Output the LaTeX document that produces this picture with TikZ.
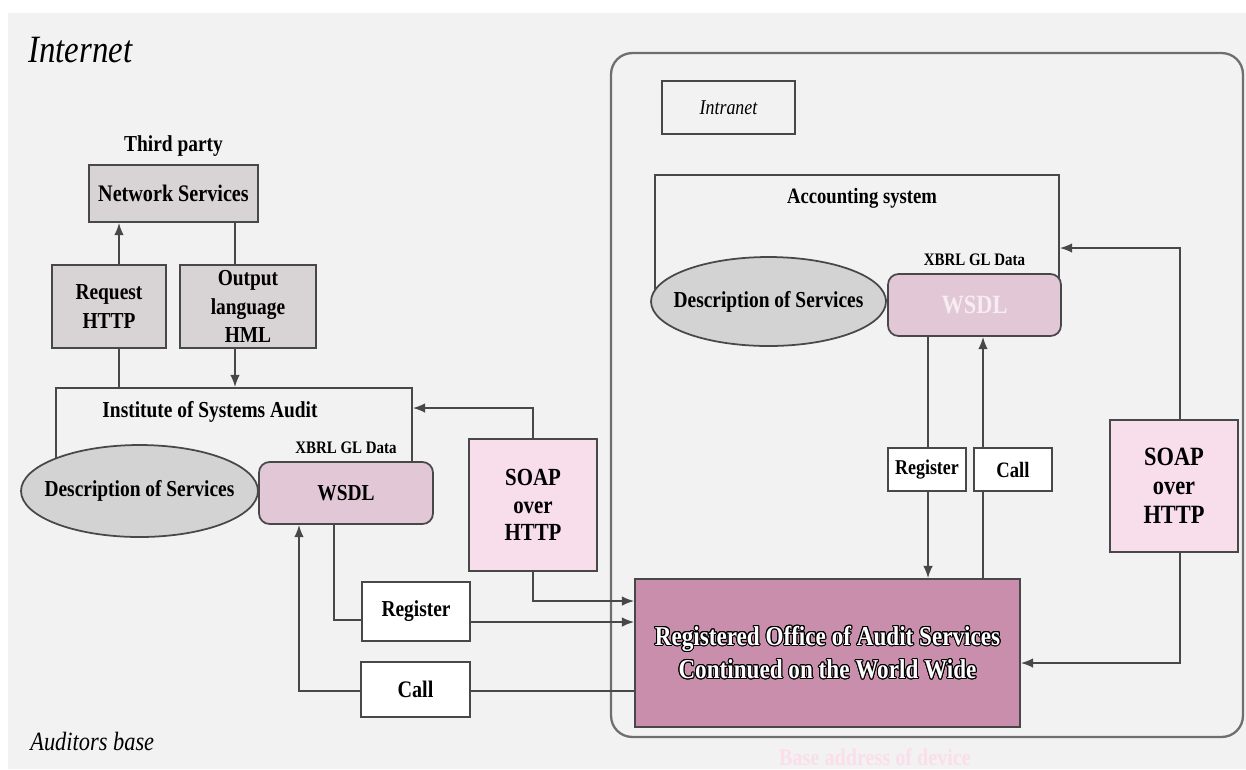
\documentclass[tikz,border=0pt]{standalone}
\usepackage{fontspec}
\setmainfont{Liberation Serif}[FakeStretch=0.85]
\usepackage[copies]{contour}
\contourlength{0.6pt}
\usepackage{xcolor}
\usetikzlibrary{arrows.meta, positioning, shapes.geometric}

\definecolor{bgcol}{RGB}{242,242,242}
\definecolor{linecol}{RGB}{72,72,72}
\definecolor{outercol}{RGB}{110,110,110}
\definecolor{boxgray}{RGB}{216,211,212}
\definecolor{ellgray}{RGB}{211,211,211}
\definecolor{wsdlpink}{RGB}{226,200,214}
\definecolor{wsdltext}{RGB}{246,236,241}
\definecolor{soappink}{RGB}{248,221,234}
\definecolor{officecol}{RGB}{201,142,171}
\definecolor{basecol}{RGB}{251,222,234}

\begin{document}
\begin{tikzpicture}[
x=0.02cm, y=-0.02cm,
box/.style={draw=linecol,
line width=1pt,
rectangle,
inner sep=0pt,
align=center,
font=\bfseries\fontsize{13}{16}\selectfont},
graybox/.style={box, fill=boxgray},
whitebox/.style={box, fill=white},
soapbox/.style={box, fill=soappink, minimum width=2.56cm, minimum height=2.64cm},
wsdlbox/.style={box, fill=wsdlpink, rounded corners=6pt},
descbox/.style={box, ellipse, fill=ellgray},
openframe/.style={draw=linecol, line width=1pt, rectangle, inner sep=0pt},
heading/.style={inner sep=0pt, font=\bfseries\fontsize{13}{15}\selectfont},
tag/.style={inner sep=0pt, font=\bfseries\fontsize{10}{12}\selectfont},
arrow/.style={-{Latex[length=7pt, width=5.5pt]}, draw=linecol, line width=1pt},
link/.style={draw=linecol, line width=1pt}
]

\useasboundingbox (0,0) rectangle (1246,769);
\clip (0,0) rectangle (1246,769);
\fill[bgcol] (8,13) rectangle (1246,769);

\node[anchor=base west, inner sep=0pt, font=\itshape\fontsize{22}{24}\selectfont] (internet) at (28,62) {Internet};
\node[anchor=base west, inner sep=0pt, font=\itshape\fontsize{15}{17}\selectfont] (auditors) at (30,750) {Auditors base};

\node[draw=outercol, line width=1.3pt, rounded corners=12pt, minimum width=12.64cm, minimum height=13.68cm, inner sep=0pt] (intra) at (927,395) {};
\node[draw=linecol, line width=1.3pt, minimum width=2.66cm, minimum height=1.06cm, font=\itshape\fontsize{12}{14}\selectfont] (intraLbl) at (728.5,107.5) {Intranet};

\node[graybox, minimum width=3.38cm, minimum height=1.14cm, font=\bfseries\fontsize{13.5}{16}\selectfont] (net) at (173.5,193.5) {Network Services};
\node[heading, above=4pt of net] (third) {Third party};
\node[graybox, minimum width=2.28cm, minimum height=1.66cm] (req) at (109,306.5) {Request\\HTTP};
\node[graybox, minimum width=2.72cm, minimum height=1.66cm] (outp) at (248,306.5) {Output\\language\\HML};

\node[openframe, minimum width=7.12cm, minimum height=2.08cm] (inst) at (234,440) {};
\node[heading] (instLbl) at (210,412) {Institute of Systems Audit};
\node[descbox, minimum width=4.74cm, minimum height=1.84cm, label={[heading]center:Description of Services}] (descL) at (139.5,491) {};
\node[wsdlbox, minimum width=3.48cm, minimum height=1.24cm] (wsdlL) at (346,493) {WSDL};
\node[tag, above=4pt of wsdlL] (xbrlL) {XBRL GL Data};
\node[soapbox, font=\bfseries\fontsize{14}{15.5}\selectfont] (soapL) at (533,505) {SOAP\\over\\HTTP};
\node[whitebox, minimum width=2.16cm, minimum height=1.18cm] (regL) at (416,611.5) {Register};
\node[whitebox, minimum width=2.18cm, minimum height=1.1cm, font=\bfseries\fontsize{13.5}{16}\selectfont] (callL) at (415.5,689.5) {Call};

\node[box, fill=officecol, minimum width=7.7cm, minimum height=2.96cm, text=white, font=\bfseries\fontsize{15.5}{19}\selectfont] (office) at (827.5,653) {\contour{black}{Registered Office of Audit Services}\\\contour{black}{Continued on the World Wide}};

\node[openframe, minimum width=8.08cm, minimum height=2.5cm] (acc) at (857,237.5) {};
\node[heading, font=\bfseries\fontsize{12.5}{15}\selectfont] (accLbl) at (862,198) {Accounting system};
\node[descbox, minimum width=4.7cm, minimum height=1.78cm, label={[heading]center:Description of Services}] (descR) at (768.5,301.5) {};
\node[wsdlbox, minimum width=3.46cm, minimum height=1.24cm, text=wsdltext, font=\bfseries\fontsize{15}{17}\selectfont] (wsdlR) at (974.5,305) {WSDL};
\node[tag, above=4pt of wsdlR] (xbrlR) {XBRL GL Data};
\node[whitebox, minimum width=1.56cm, minimum height=0.86cm, font=\bfseries\fontsize{12}{14}\selectfont] (regR) at (927,469.5) {Register};
\node[whitebox, minimum width=1.56cm, minimum height=0.86cm, font=\bfseries\fontsize{12.5}{14}\selectfont] (callR) at (1013,469.5) {Call};
\node[soapbox, font=\bfseries\fontsize{15}{16.5}\selectfont] (soapR) at (1174,486) {SOAP\\over\\HTTP};

\node[inner sep=0pt, anchor=north, text=basecol, font=\bfseries\fontsize{13.5}{15}\selectfont] (baseAddr) at (875,748) {Base address of device};

\draw[link] (inst.north -| 119,0) -- (req.south -| 119,0);
\draw[arrow] (req.north -| 119,0) -- (net.south -| 119,0);
\draw[link] (net.south -| 235,0) -- (outp.north -| 235,0);
\draw[arrow] (outp.south -| 235,0) -- (inst.north -| 235,0);

\draw[arrow] (soapL.north) |- (inst.east |- 0,408);
\draw[arrow] (soapL.south) |- (office.west |- 0,601);
\draw[link] (wsdlL.south -| 334,0) |- (regL.west |- 0,620);
\draw[arrow] (regL.east |- 0,622) -- (office.west |- 0,622);
\draw[link] (office.west |- 0,691) -- (callL.east |- 0,691);
\draw[arrow] (callL.west |- 0,691) -| (wsdlL.south -| 299,0);

\draw[link] (wsdlR.south -| 928,0) -- (regR.north -| 928,0);
\draw[arrow] (regR.south -| 928,0) -- (office.north -| 928,0);
\draw[link] (office.north -| 983,0) -- (callR.south -| 983,0);
\draw[arrow] (callR.north -| 983,0) -- (wsdlR.south -| 983,0);

\draw[arrow] (soapR.north -| 1180,0) |- (acc.east |- 0,248);
\draw[arrow] (soapR.south -| 1180,0) |- (office.east |- 0,663);

\end{tikzpicture}
\end{document}
